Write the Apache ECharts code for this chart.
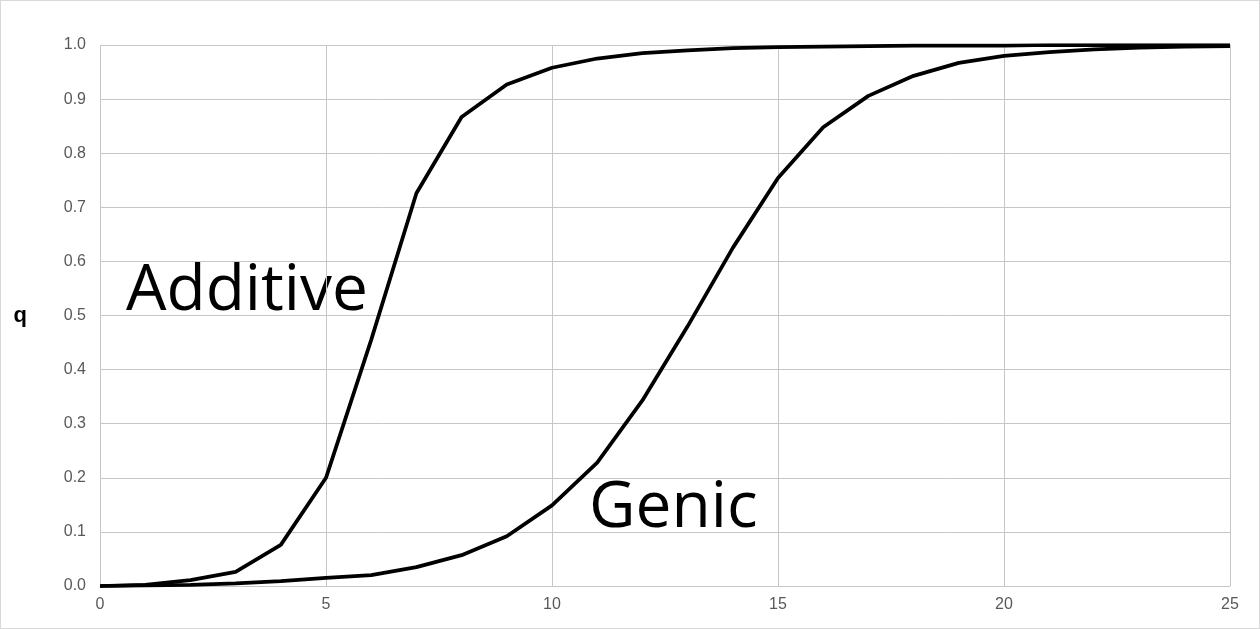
<!DOCTYPE html>
<html>
<head>
<meta charset="utf-8">
<script src="https://cdn.jsdelivr.net/npm/echarts@6/dist/echarts.min.js"></script>
<style>
html,body{margin:0;padding:0;background:#fff;}
#chart{width:1260px;height:629px;box-sizing:border-box;border:1px solid #d9d9d9;}
</style>
</head>
<body>
<div id="chart"></div>
<script>
var generations = [0,1,2,3,4,5,6,7,8,9,10,11,12,13,14,15,16,17,18,19,20,21,22,23,24,25];
var additive = [0,0.002,0.011,0.026,0.076,0.200,0.455,0.726,0.867,0.927,0.958,0.975,0.985,0.990,0.994,0.996,0.997,0.998,0.999,0.999,0.999,1.0,1.0,1.0,1.0,1.0];
var genic = [0,0.001,0.002,0.005,0.009,0.015,0.020,0.035,0.057,0.092,0.149,0.228,0.343,0.480,0.625,0.754,0.848,0.906,0.943,0.967,0.980,0.987,0.992,0.995,0.997,0.998];
var yLabel = 'q';
var curveLabels = ['Additive', 'Genic'];

function pairs(ys){ return generations.map(function(x,i){ return [x, ys[i]]; }); }

var chart = echarts.init(document.getElementById('chart'));
var gridColor = '#c6c6c6';
chart.setOption({
  animation:false,
  grid:{left:99,right:29,top:44,bottom:42},
  xAxis:{type:'value',min:0,max:25,interval:5,
    axisLine:{show:true,lineStyle:{color:gridColor}},
    axisTick:{show:false},
    splitLine:{show:true,lineStyle:{color:gridColor,width:1}},
    axisLabel:{color:'#595959',fontSize:16,fontFamily:'Liberation Sans, Arial',margin:11}},
  yAxis:{type:'value',min:0,max:1,interval:0.1,
    name:yLabel,nameLocation:'middle',nameRotate:0,nameGap:73,
    nameTextStyle:{fontSize:22,fontWeight:'bold',color:'#000',fontFamily:'Liberation Sans, Arial',padding:[0,0,12,0]},
    axisLine:{show:false},axisTick:{show:false},
    splitLine:{show:true,lineStyle:{color:gridColor,width:1}},
    axisLabel:{color:'#595959',fontSize:16,fontFamily:'Liberation Sans, Arial',margin:14,
      formatter:function(v){return v.toFixed(1);}}},
  series:[
    {type:'line',name:curveLabels[0],data:pairs(additive),symbol:'none',lineStyle:{color:'#000',width:3.75},z:5},
    {type:'line',name:curveLabels[1],data:pairs(genic),symbol:'none',lineStyle:{color:'#000',width:3.75},z:5}
  ],
  graphic:[
    {type:'text',left:125,top:259,style:{text:curveLabels[0],font:'64px "Open Sans", sans-serif',fill:'#000'}},
    {type:'text',left:588,top:476,style:{text:curveLabels[1],font:'64px "Open Sans", sans-serif',fill:'#000'}}
  ]
});
</script>
</body>
</html>
